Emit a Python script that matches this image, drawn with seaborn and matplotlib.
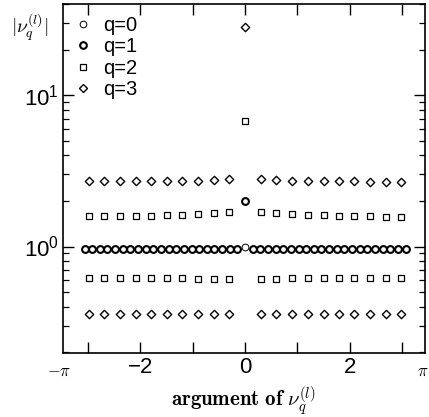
import matplotlib
matplotlib.use("Agg")
import matplotlib.pyplot as plt
import seaborn as sns
import pandas as pd
from matplotlib.lines import Line2D

# ---------------- data ----------------
x_q0 = [0.0]
v_q0 = [1.0]

x_q1 = [-3.069, -2.922, -2.776, -2.630, -2.484, -2.338, -2.192, -2.046, -1.900, -1.753,
        -1.607, -1.461, -1.315, -1.169, -1.023, -0.877, -0.731, -0.584, -0.438, -0.292, -0.146,
        0.0,
        0.146, 0.292, 0.438, 0.584, 0.731, 0.877, 1.023, 1.169, 1.315, 1.461, 1.607,
        1.753, 1.900, 2.046, 2.192, 2.338, 2.484, 2.630, 2.776, 2.922, 3.069]
v_q1 = [0.97, 0.97, 0.97, 0.97, 0.97, 0.97, 0.97, 0.97, 0.97, 0.97,
        0.97, 0.97, 0.97, 0.97, 0.97, 0.97, 0.97, 0.97, 0.97, 0.97, 0.97,
        2.0,
        0.97, 0.97, 0.97, 0.97, 0.97, 0.97, 0.97, 0.97, 0.97, 0.97, 0.97,
        0.97, 0.97, 0.97, 0.97, 0.97, 0.97, 0.97, 0.97, 0.97, 0.97]

x_q23 = [-2.99, -2.69, -2.39, -2.09, -1.80, -1.50, -1.20, -0.90, -0.60, -0.30,
         0.30, 0.60, 0.90, 1.20, 1.50, 1.80, 2.09, 2.39, 2.69, 2.99]
v_q2_upper = [1.58, 1.58, 1.58, 1.59, 1.60, 1.61, 1.62, 1.64, 1.67, 1.68,
              1.68, 1.67, 1.64, 1.62, 1.61, 1.60, 1.59, 1.58, 1.57, 1.57]
v_q2_lower = [0.62, 0.62, 0.62, 0.62, 0.62, 0.615, 0.615, 0.61, 0.61, 0.61,
              0.61, 0.61, 0.615, 0.615, 0.62, 0.62, 0.62, 0.62, 0.62, 0.62]
v_q3_upper = [2.70, 2.71, 2.70, 2.71, 2.70, 2.70, 2.71, 2.71, 2.74, 2.78,
              2.78, 2.74, 2.72, 2.70, 2.70, 2.69, 2.69, 2.68, 2.68, 2.68]
v_q3_lower = [0.36, 0.36, 0.36, 0.36, 0.36, 0.36, 0.36, 0.36, 0.36, 0.36,
              0.36, 0.36, 0.36, 0.36, 0.36, 0.36, 0.36, 0.36, 0.36, 0.36]
x_center = [0.0]
v_q2_center = [6.7]
v_q3_center = [28.0]

legend_labels = ["q=0", "q=1", "q=2", "q=3"]
xtick_values = [-3, -2, -1, 0, 1, 2, 3]
xtick_labels = ["", "\u22122", "", "0", "", "2", ""]

# ---------------- frame ----------------
df_q0 = pd.DataFrame({"x": x_q0, "v": v_q0})
df_q1 = pd.DataFrame({"x": x_q1, "v": v_q1})
df_q2 = pd.DataFrame({"x": x_q23 + x_q23 + x_center,
                      "v": v_q2_upper + v_q2_lower + v_q2_center})
df_q3 = pd.DataFrame({"x": x_q23 + x_q23 + x_center,
                      "v": v_q3_upper + v_q3_lower + v_q3_center})

sns.set_style("ticks")
plt.rcParams["font.family"] = ["Liberation Sans", "DejaVu Sans"]
plt.rcParams["mathtext.fontset"] = "cm"
for key in ["text.color", "axes.labelcolor", "xtick.color", "ytick.color", "axes.edgecolor"]:
    plt.rcParams[key] = "black"

fig = plt.figure(figsize=(4.29, 4.17), dpi=100)
ax = fig.add_axes([63 / 429, 1 - 353 / 417, (425 - 63) / 429, (353 - 4) / 417])

common = dict(ax=ax, facecolor="white", edgecolor="black", legend=False, zorder=3)
sns.scatterplot(data=df_q1, x="x", y="v", marker="o", s=24, linewidth=1.5, **common)
sns.scatterplot(data=df_q0, x="x", y="v", marker="o", s=24, linewidth=0.7, **common)
sns.scatterplot(data=df_q2, x="x", y="v", marker="s", s=20, linewidth=0.9, **common)
sns.scatterplot(data=df_q3, x="x", y="v", marker="D", s=18, linewidth=1.0, **common)

ax.set_yscale("log")
ax.set_ylim(0.198, 40)
ax.set_xlim(-3.48, 3.44)
ax.set_xticks(xtick_values)
ax.set_xticklabels(xtick_labels)
ax.set_xlabel("")
ax.set_ylabel("")

for s in ax.spines.values():
    s.set_linewidth(1.2)
    s.set_color("black")

ax.tick_params(axis="both", which="major", direction="in", top=True, right=True,
               length=8, width=1.0, labelsize=16, pad=3, color="black", labelcolor="black")
ax.tick_params(axis="y", which="minor", direction="in", left=True, right=True,
               length=4, width=0.9, color="black")
ax.tick_params(axis="x", which="minor", bottom=False, top=False)

# legend
handles = [
    Line2D([], [], ls="none", marker="o", ms=4.8, mfc="white", mec="black", mew=0.7),
    Line2D([], [], ls="none", marker="o", ms=4.8, mfc="white", mec="black", mew=1.5),
    Line2D([], [], ls="none", marker="s", ms=4.5, mfc="white", mec="black", mew=0.9),
    Line2D([], [], ls="none", marker="D", ms=4.2, mfc="white", mec="black", mew=1.0),
]
ax.legend(handles, legend_labels, loc="upper left", bbox_to_anchor=(0.0, 1.0),
          frameon=False, fontsize=14.5, handlelength=0.8, handletextpad=0.6,
          labelspacing=0.12, borderaxespad=0.4, borderpad=0.2)

# labels
fig.text(30 / 429, 1 - 27 / 417, r"$|\nu_q^{(l)}|$", ha="center", va="center", fontsize=14)
fig.text(243 / 429, 1 - 401 / 417, r"$\mathbf{argument\ of}\ \nu_q^{(l)}$",
         ha="center", va="center", fontsize=15)
fig.text(59 / 429, 1 - 371 / 417, r"$-\pi$", ha="center", va="center", fontsize=12)
fig.text(423 / 429, 1 - 371 / 417, r"$\pi$", ha="center", va="center", fontsize=12)

fig.savefig("out.png", dpi=100)
